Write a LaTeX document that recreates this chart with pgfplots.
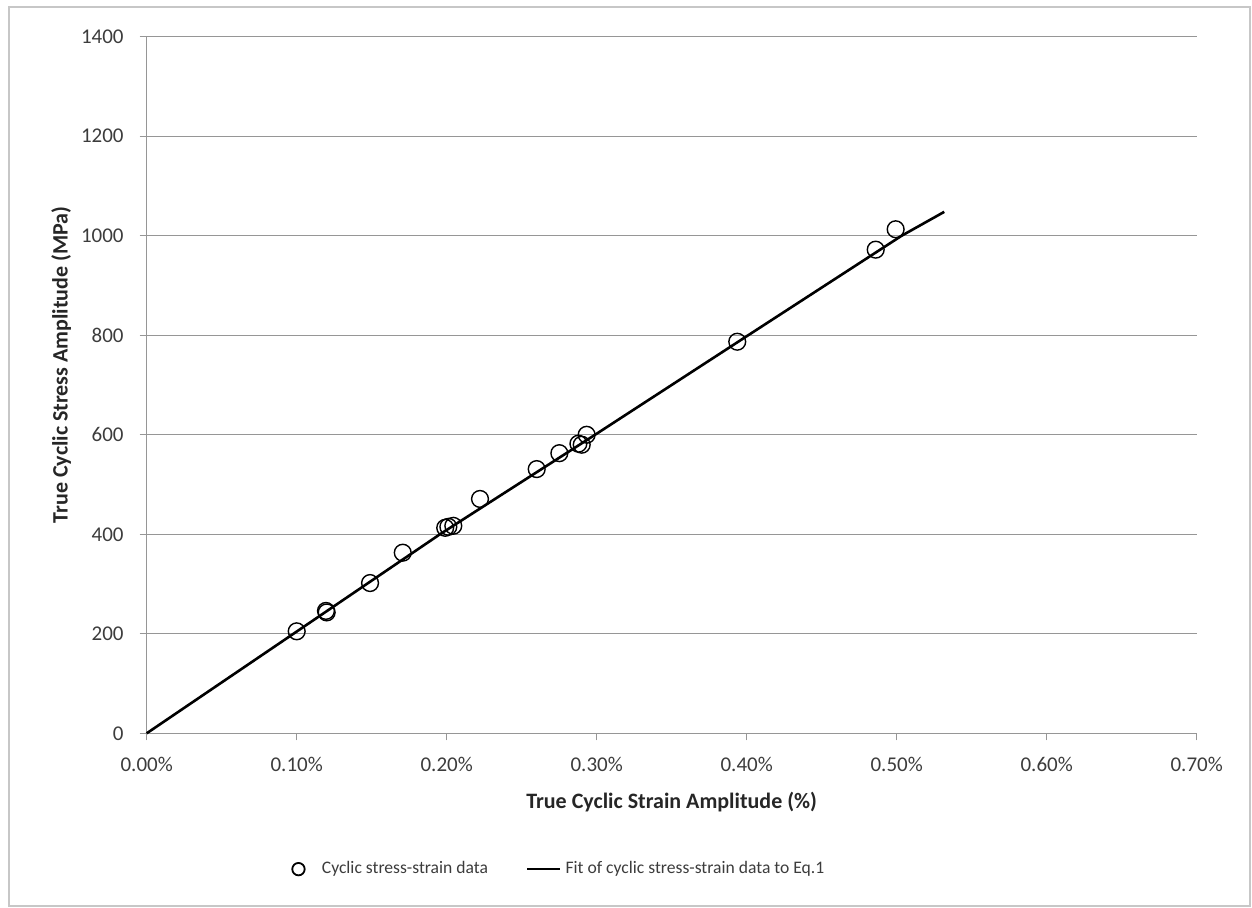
\documentclass[border=0pt]{standalone}
\usepackage{fontspec}
\setmainfont{Carlito}
\usepackage{pgfplots}
\pgfplotsset{compat=1.18}
\definecolor{gridgray}{RGB}{150,150,150}
\definecolor{labelgray}{RGB}{60,60,60}

\begin{document}
\begin{tikzpicture}
\useasboundingbox (-73.35pt,-86.85pt) rectangle (552.65pt,366.65pt);
\draw[black!22, line width=1.2pt] (-68.85pt,-86.35pt) rectangle (551.65pt,363.15pt);
\begin{axis}[
  scale only axis,
  width=525pt, height=348.3pt,
  xmin=0, xmax=0.7, ymin=0, ymax=1400,
  axis x line=bottom, axis y line=left,
  axis line style={-, gridgray, line width=0.7pt},
  xtick={0,0.1,0.2,0.3,0.4,0.5,0.6,0.7},
  xticklabels={0.00\%,0.10\%,0.20\%,0.30\%,0.40\%,0.50\%,0.60\%,0.70\%},
  ytick={0,200,400,600,800,1000,1200,1400},
  ymajorgrids,
  grid style={gridgray, line width=0.7pt},
  tick align=outside, major tick length=3.5pt,
  tick style={gridgray, line width=0.7pt},
  tick label style={font=\fontsize{10.5}{12}\selectfont, text=labelgray},
  xticklabel style={yshift=-5pt},
  yticklabel style={xshift=-4.5pt},
  /pgf/number format/assume math mode=true,
  /pgf/number format/1000 sep={},
  xlabel={\textbf{True Cyclic Strain Amplitude (\%)}},
  ylabel={\textbf{True Cyclic Stress Amplitude (MPa)}},
  label style={font=\fontsize{11}{13}\selectfont, text=black!85},
  xlabel style={at={(axis description cs:0.5,-0.099)}, anchor=center},
  ylabel style={at={(axis description cs:-0.0815,0.529)}, anchor=center},
  legend style={draw=none, fill=none, at={(axis description cs:0.3935,-0.195)},
    anchor=center, legend columns=2, font=\fontsize{8.8}{11}\selectfont, text=labelgray,
    /tikz/every even column/.append style={column sep=17pt}},
  legend cell align=left,
  clip=false,
]
\addplot[only marks, mark=o, mark size=4.2pt, mark options={line width=0.7pt, black},
  legend image code/.code={\draw[black, line width=0.9pt] (0pt,0pt) circle (3.1pt);
    \path (9.5pt,0pt);}]
  coordinates {
  (0.1000,205) (0.1195,246) (0.1200,243) (0.1489,302) (0.1707,363)
  (0.1990,413) (0.2011,415) (0.2044,417) (0.2222,471) (0.2600,531)
  (0.2751,563) (0.2878,582) (0.2900,580) (0.2933,600) (0.3937,787)
  (0.4860,972) (0.4993,1013)
};
\addlegendentry{Cyclic stress-strain data}
\addplot[black, line width=1.3pt,
  legend image code/.code={\draw[line width=1.3pt] (0pt,0pt) -- (16.5pt,0pt);}]
  coordinates {
  (0,0) (0.0978,200) (0.1955,400) (0.2989,600) (0.4010,800) (0.5033,1000) (0.5317,1048)
};
\addlegendentry{Fit of cyclic stress-strain data to Eq.1}
\end{axis}
\end{tikzpicture}
\end{document}
